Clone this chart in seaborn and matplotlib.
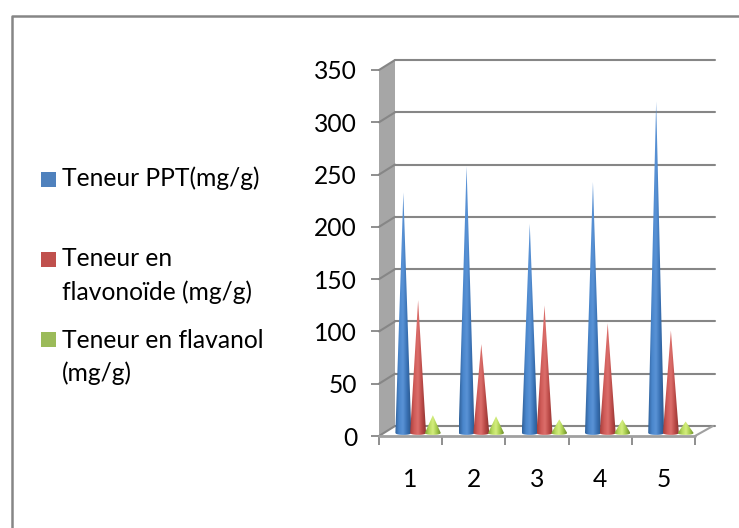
import numpy as np
import pandas as pd
import matplotlib
matplotlib.use("Agg")
import matplotlib.pyplot as plt
import matplotlib.transforms as mtrans
from matplotlib.colors import LinearSegmentedColormap
from matplotlib.lines import Line2D
from matplotlib.patches import Polygon, Rectangle
import seaborn as sns

# values
samples = ["1", "2", "3", "4", "5"]
teneur_ppt = [230, 255, 200, 240, 317]
teneur_flavonoide = [127, 85, 122, 105, 98]
teneur_flavanol = [17, 16, 13, 13, 11]
y_ticks = [0, 50, 100, 150, 200, 250, 300, 350]
series_names = ["Teneur PPT(mg/g)", "Teneur en flavonoïde (mg/g)", "Teneur en flavanol (mg/g)"]
series_colors = ["#4f81bd", "#c0504d", "#9bbb59"]
cone_shades = [
    ["#2f6099", "#4a86cc", "#5a93d6", "#3a72b5", "#2a578c"],
    ["#a63f3c", "#cf5a57", "#dc6f6b", "#bb4a47", "#8f3533"],
    ["#7f9f35", "#b5d85c", "#d4ee7e", "#a3c94b", "#6f8c2d"],
]

W, H = 739, 528
GRID = "#868686"
DEPTH_X, DEPTH_Y = 16, 10   # how far the back wall sits from the front plane, px
FONT_SIZE = 17.7


def px(x, y):
    return x / W, 1 - y / H


sns.set_theme(style="white")
plt.rcParams["font.family"] = ["Lato", "DejaVu Sans"]

df = pd.DataFrame({
    "echantillon": samples * 3,
    "serie": np.repeat(series_names, 5),
    "valeur": teneur_ppt + teneur_flavonoide + teneur_flavanol,
})

fig = plt.figure(figsize=(W / 100, H / 100), dpi=100, facecolor="white")
ax = fig.add_axes([379 / W, (H - 436) / H, (695 - 379) / W, (436 - 70) / H])
ax.patch.set_visible(False)

sns.barplot(data=df, x="echantillon", y="valeur", hue="serie", hue_order=series_names,
            palette=series_colors, width=0.7, legend=False, ax=ax)
ax.set_xlim(-0.5, 4.5)
ax.set_ylim(0, 350)
ax.set_xlabel("")
ax.set_ylabel("")
for side in ax.spines.values():
    side.set_visible(False)

# offsets in px, applied after the data transform
back = ax.transData + mtrans.Affine2D().translate(DEPTH_X, DEPTH_Y)
cone_tf = ax.transData + mtrans.Affine2D().translate(7.5, 3)

# side wall
dx, dy = DEPTH_X / 63.2, DEPTH_Y / 1.046
wall = Polygon([(-0.5, 0), (-0.5, 350), (-0.5 + dx, 350 + dy), (-0.5 + dx, dy)],
               closed=True, facecolor="#a6a6a6", edgecolor="none", clip_on=False, zorder=1)
ax.add_patch(wall)

# gridlines on the back wall, with the slanted bit across the side wall
for tick in y_ticks:
    ax.add_line(Line2D([-0.5, 4.5 + 4 / 63.2], [tick, tick], color=GRID, lw=1.5, transform=back,
                       clip_on=False, zorder=2))
    ax.add_line(Line2D([-0.5, -0.5 + dx], [tick, tick + dy], color=GRID, lw=1.5,
                       clip_on=False, zorder=2))

# floor
ax.add_line(Line2D([-0.5, 4.5], [0, 0], color="#a0a0a0", lw=2, clip_on=False, zorder=3))
ax.add_line(Line2D([4.5, 4.5 + dx + 0.03], [0, dy], color="#a0a0a0", lw=1.5, clip_on=False, zorder=3))

# outward ticks
ax.set_yticks(y_ticks)
ax.set_yticklabels([str(t) for t in y_ticks], fontsize=FONT_SIZE, color="black")
ax.set_xticks(np.arange(-0.5, 5, 1), minor=True)
ax.tick_params(axis="y", which="major", left=True, length=5.8, width=1.3, color=GRID, pad=10)
ax.tick_params(axis="x", which="minor", bottom=True, length=6.5, width=1.3, color=GRID)
ax.tick_params(axis="x", which="major", bottom=False, labelsize=FONT_SIZE, pad=17, labelcolor="black")

# seaborn bars give the positions and heights, the cones are drawn over them
z = 5
for cont, shades in zip(ax.containers, cone_shades):
    cmap = LinearSegmentedColormap.from_list("cone", shades)
    grad = np.linspace(0, 1, 64).reshape(1, -1)
    for bar in cont:
        bar.set_visible(False)
        mid, h = bar.get_x() + bar.get_width() / 2, bar.get_height()
        half = bar.get_width() * 0.54
        arc_x = np.linspace(mid - half, mid + half, 25)
        arc_y = -1.8 * np.sqrt(np.clip(1 - ((arc_x - mid) / half) ** 2, 0, 1))
        verts = [(mid, h)] + list(zip(arc_x, arc_y))[::-1]
        clip = Polygon(verts, closed=True, transform=cone_tf, facecolor="none", edgecolor="none")
        ax.add_patch(clip)
        im = ax.imshow(grad, cmap=cmap, aspect="auto", extent=(mid - half, mid + half, -3, h), zorder=z,
                       interpolation="bilinear")
        im.set_transform(cone_tf)
        im.set_clip_path(clip)
    z += 1
ax.set_xlim(-0.5, 4.5)
ax.set_ylim(0, 350)

# chart frame, only left and top show
fig.add_artist(Line2D([12 / W, 12 / W, 1], [0, 1 - 16 / H, 1 - 16 / H], color=GRID, lw=1.8))

# legend, placed by hand because of the wrapped labels
legend_rows = [
    (172, series_colors[0], [("Teneur PPT(mg/g)", 178)]),
    (252, series_colors[1], [("Teneur en", 259), ("flavonoïde (mg/g)", 292)]),
    (332, series_colors[2], [("Teneur en flavanol", 340), ("(mg/g)", 373)]),
]
for top, color, lines in legend_rows:
    x, y = px(41, top + 15)
    fig.add_artist(Rectangle((x, y), 15 / W, 15 / H, transform=fig.transFigure, facecolor=color, edgecolor="none"))
    for txt, yy in lines:
        tx, ty = px(62, yy)
        fig.text(tx, ty, txt, fontsize=FONT_SIZE, color="black", va="center", ha="left")

fig.savefig("out.png", dpi=100)
